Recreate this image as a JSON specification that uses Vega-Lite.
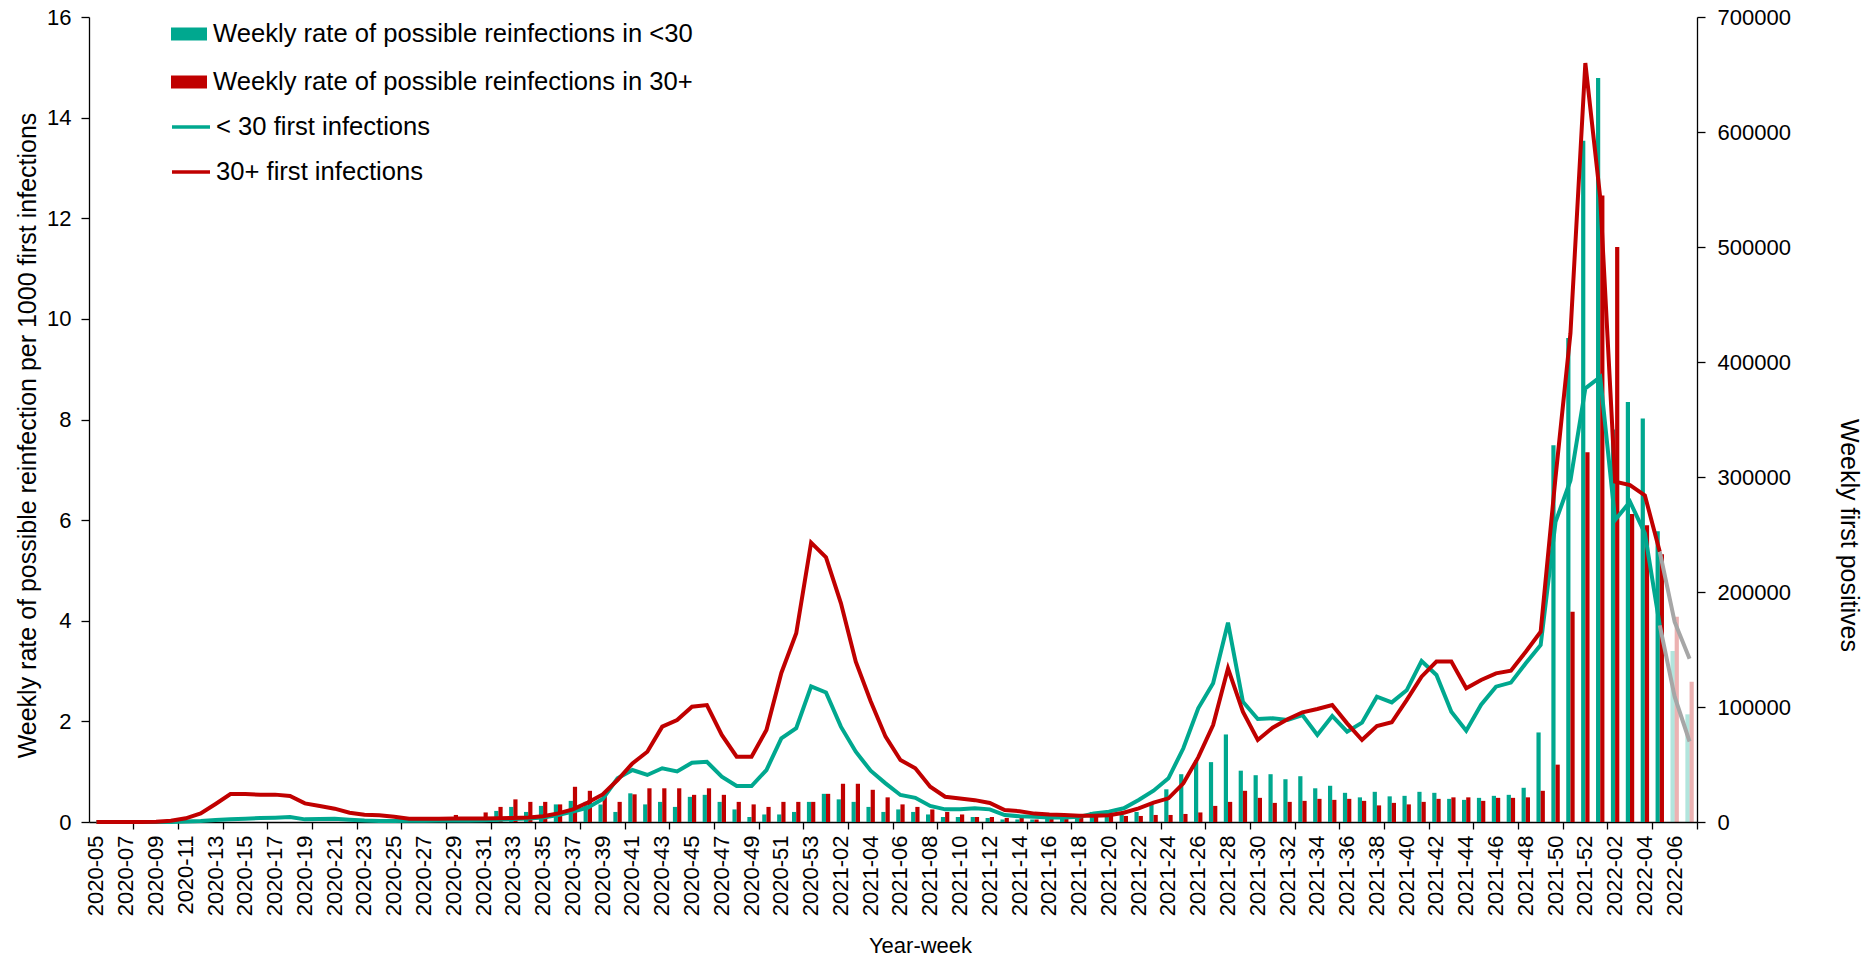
{
"$schema":"https://vega.github.io/schema/vega-lite/v6.json",
"width":1608,"height":805,
"autosize":{"type":"none"},
"padding":{"left":89,"top":17,"right":173,"bottom":134},
"background":"white",
"config":{"font":"Liberation Sans","view":{"stroke":null},
"axis":{"grid":false,"labelColor":"black","titleColor":"black","domainColor":"black","tickColor":"black","labelFont":"Liberation Sans","titleFont":"Liberation Sans","titleFontWeight":"normal","domainWidth":1.3,"tickWidth":1.3},
"legend":{"labelFont":"Liberation Sans","labelColor":"black"}},
"datasets":{"d":[
{"week":"2020-05","group":"<30","rate":0,"first":0},{"week":"2020-05","group":"30+","rate":0,"first":0},
{"week":"2020-06","group":"<30","rate":0,"first":0},{"week":"2020-06","group":"30+","rate":0,"first":0},
{"week":"2020-07","group":"<30","rate":0,"first":0},{"week":"2020-07","group":"30+","rate":0,"first":0},
{"week":"2020-08","group":"<30","rate":0,"first":0},{"week":"2020-08","group":"30+","rate":0,"first":0},
{"week":"2020-09","group":"<30","rate":0,"first":0},{"week":"2020-09","group":"30+","rate":0,"first":300},
{"week":"2020-10","group":"<30","rate":0,"first":0},{"week":"2020-10","group":"30+","rate":0,"first":1100},
{"week":"2020-11","group":"<30","rate":0,"first":400},{"week":"2020-11","group":"30+","rate":0,"first":3200},
{"week":"2020-12","group":"<30","rate":0,"first":900},{"week":"2020-12","group":"30+","rate":0,"first":7500},
{"week":"2020-13","group":"<30","rate":0,"first":1700},{"week":"2020-13","group":"30+","rate":0,"first":15700},
{"week":"2020-14","group":"<30","rate":0,"first":2300},{"week":"2020-14","group":"30+","rate":0,"first":24300},
{"week":"2020-15","group":"<30","rate":0,"first":2900},{"week":"2020-15","group":"30+","rate":0,"first":24300},
{"week":"2020-16","group":"<30","rate":0,"first":3500},{"week":"2020-16","group":"30+","rate":0,"first":23800},
{"week":"2020-17","group":"<30","rate":0,"first":3800},{"week":"2020-17","group":"30+","rate":0,"first":23800},
{"week":"2020-18","group":"<30","rate":0,"first":4300},{"week":"2020-18","group":"30+","rate":0,"first":22600},
{"week":"2020-19","group":"<30","rate":0,"first":2300},{"week":"2020-19","group":"30+","rate":0,"first":16200},
{"week":"2020-20","group":"<30","rate":0,"first":2600},{"week":"2020-20","group":"30+","rate":0,"first":13900},
{"week":"2020-21","group":"<30","rate":0,"first":2900},{"week":"2020-21","group":"30+","rate":0,"first":11600},
{"week":"2020-22","group":"<30","rate":0,"first":2000},{"week":"2020-22","group":"30+","rate":0,"first":8100},
{"week":"2020-23","group":"<30","rate":0,"first":1200},{"week":"2020-23","group":"30+","rate":0,"first":6400},
{"week":"2020-24","group":"<30","rate":0,"first":900},{"week":"2020-24","group":"30+","rate":0,"first":5800},
{"week":"2020-25","group":"<30","rate":0,"first":900},{"week":"2020-25","group":"30+","rate":0,"first":4600},
{"week":"2020-26","group":"<30","rate":0,"first":1000},{"week":"2020-26","group":"30+","rate":0,"first":2900},
{"week":"2020-27","group":"<30","rate":0,"first":1100},{"week":"2020-27","group":"30+","rate":0,"first":2900},
{"week":"2020-28","group":"<30","rate":0,"first":1200},{"week":"2020-28","group":"30+","rate":0,"first":2900},
{"week":"2020-29","group":"<30","rate":0,"first":1300},{"week":"2020-29","group":"30+","rate":0.14,"first":3000},
{"week":"2020-30","group":"<30","rate":0,"first":1400},{"week":"2020-30","group":"30+","rate":0.05,"first":3000},
{"week":"2020-31","group":"<30","rate":0.05,"first":1500},{"week":"2020-31","group":"30+","rate":0.19,"first":3000},
{"week":"2020-32","group":"<30","rate":0.22,"first":2000},{"week":"2020-32","group":"30+","rate":0.3,"first":3200},
{"week":"2020-33","group":"<30","rate":0.3,"first":2500},{"week":"2020-33","group":"30+","rate":0.45,"first":3500},
{"week":"2020-34","group":"<30","rate":0.2,"first":3000},{"week":"2020-34","group":"30+","rate":0.4,"first":4000},
{"week":"2020-35","group":"<30","rate":0.32,"first":4000},{"week":"2020-35","group":"30+","rate":0.4,"first":5000},
{"week":"2020-36","group":"<30","rate":0.35,"first":6000},{"week":"2020-36","group":"30+","rate":0.35,"first":7500},
{"week":"2020-37","group":"<30","rate":0.42,"first":9000},{"week":"2020-37","group":"30+","rate":0.7,"first":11000},
{"week":"2020-38","group":"<30","rate":0.4,"first":12500},{"week":"2020-38","group":"30+","rate":0.62,"first":17000},
{"week":"2020-39","group":"<30","rate":0.35,"first":20000},{"week":"2020-39","group":"30+","rate":0.55,"first":24000},
{"week":"2020-40","group":"<30","rate":0.2,"first":38000},{"week":"2020-40","group":"30+","rate":0.4,"first":36500},
{"week":"2020-41","group":"<30","rate":0.57,"first":45200},{"week":"2020-41","group":"30+","rate":0.55,"first":51000},
{"week":"2020-42","group":"<30","rate":0.35,"first":40900},{"week":"2020-42","group":"30+","rate":0.67,"first":61100},
{"week":"2020-43","group":"<30","rate":0.4,"first":46700},{"week":"2020-43","group":"30+","rate":0.67,"first":82900},
{"week":"2020-44","group":"<30","rate":0.3,"first":44000},{"week":"2020-44","group":"30+","rate":0.67,"first":88700},
{"week":"2020-45","group":"<30","rate":0.5,"first":51600},{"week":"2020-45","group":"30+","rate":0.54,"first":100300},
{"week":"2020-46","group":"<30","rate":0.54,"first":52400},{"week":"2020-46","group":"30+","rate":0.67,"first":101700},
{"week":"2020-47","group":"<30","rate":0.4,"first":39400},{"week":"2020-47","group":"30+","rate":0.54,"first":75700},
{"week":"2020-48","group":"<30","rate":0.25,"first":31300},{"week":"2020-48","group":"30+","rate":0.4,"first":56800},
{"week":"2020-49","group":"<30","rate":0.1,"first":31300},{"week":"2020-49","group":"30+","rate":0.35,"first":56800},
{"week":"2020-50","group":"<30","rate":0.15,"first":45200},{"week":"2020-50","group":"30+","rate":0.3,"first":80000},
{"week":"2020-51","group":"<30","rate":0.15,"first":72800},{"week":"2020-51","group":"30+","rate":0.4,"first":129600},
{"week":"2020-52","group":"<30","rate":0.2,"first":81500},{"week":"2020-52","group":"30+","rate":0.4,"first":164100},
{"week":"2020-53","group":"<30","rate":0.4,"first":118000},{"week":"2020-53","group":"30+","rate":0.4,"first":242900},
{"week":"2021-01","group":"<30","rate":0.56,"first":112600},{"week":"2021-01","group":"30+","rate":0.56,"first":230200},
{"week":"2021-02","group":"<30","rate":0.45,"first":82900},{"week":"2021-02","group":"30+","rate":0.76,"first":190400},
{"week":"2021-03","group":"<30","rate":0.4,"first":61100},{"week":"2021-03","group":"30+","rate":0.76,"first":139400},
{"week":"2021-04","group":"<30","rate":0.3,"first":44600},{"week":"2021-04","group":"30+","rate":0.64,"first":105000},
{"week":"2021-05","group":"<30","rate":0.2,"first":33600},{"week":"2021-05","group":"30+","rate":0.49,"first":74200},
{"week":"2021-06","group":"<30","rate":0.25,"first":23500},{"week":"2021-06","group":"30+","rate":0.35,"first":53900},
{"week":"2021-07","group":"<30","rate":0.2,"first":21000},{"week":"2021-07","group":"30+","rate":0.3,"first":46700},
{"week":"2021-08","group":"<30","rate":0.15,"first":14000},{"week":"2021-08","group":"30+","rate":0.25,"first":30700},
{"week":"2021-09","group":"<30","rate":0.1,"first":11000},{"week":"2021-09","group":"30+","rate":0.2,"first":22000},
{"week":"2021-10","group":"<30","rate":0.1,"first":11000},{"week":"2021-10","group":"30+","rate":0.15,"first":20500},
{"week":"2021-11","group":"<30","rate":0.1,"first":12000},{"week":"2021-11","group":"30+","rate":0.1,"first":19000},
{"week":"2021-12","group":"<30","rate":0.08,"first":11000},{"week":"2021-12","group":"30+","rate":0.1,"first":16600},
{"week":"2021-13","group":"<30","rate":0.05,"first":6000},{"week":"2021-13","group":"30+","rate":0.08,"first":10400},
{"week":"2021-14","group":"<30","rate":0.05,"first":5000},{"week":"2021-14","group":"30+","rate":0.08,"first":9400},
{"week":"2021-15","group":"<30","rate":0.05,"first":4500},{"week":"2021-15","group":"30+","rate":0.05,"first":7300},
{"week":"2021-16","group":"<30","rate":0.1,"first":4000},{"week":"2021-16","group":"30+","rate":0.09,"first":6500},
{"week":"2021-17","group":"<30","rate":0.1,"first":4000},{"week":"2021-17","group":"30+","rate":0.08,"first":6100},
{"week":"2021-18","group":"<30","rate":0.14,"first":4500},{"week":"2021-18","group":"30+","rate":0.1,"first":5500},
{"week":"2021-19","group":"<30","rate":0.2,"first":7500},{"week":"2021-19","group":"30+","rate":0.12,"first":5500},
{"week":"2021-20","group":"<30","rate":0.19,"first":9000},{"week":"2021-20","group":"30+","rate":0.12,"first":5800},
{"week":"2021-21","group":"<30","rate":0.14,"first":11900},{"week":"2021-21","group":"30+","rate":0.12,"first":8100},
{"week":"2021-22","group":"<30","rate":0.2,"first":19100},{"week":"2021-22","group":"30+","rate":0.12,"first":11900},
{"week":"2021-23","group":"<30","rate":0.36,"first":27200},{"week":"2021-23","group":"30+","rate":0.14,"first":16800},
{"week":"2021-24","group":"<30","rate":0.65,"first":38000},{"week":"2021-24","group":"30+","rate":0.14,"first":20600},
{"week":"2021-25","group":"<30","rate":0.95,"first":64100},{"week":"2021-25","group":"30+","rate":0.16,"first":33600},
{"week":"2021-26","group":"<30","rate":1.23,"first":98900},{"week":"2021-26","group":"30+","rate":0.19,"first":56200},
{"week":"2021-27","group":"<30","rate":1.19,"first":120600},{"week":"2021-27","group":"30+","rate":0.32,"first":84300},
{"week":"2021-28","group":"<30","rate":1.74,"first":173300},{"week":"2021-28","group":"30+","rate":0.4,"first":133600},
{"week":"2021-29","group":"<30","rate":1.02,"first":104600},{"week":"2021-29","group":"30+","rate":0.62,"first":95900},
{"week":"2021-30","group":"<30","rate":0.93,"first":89600},{"week":"2021-30","group":"30+","rate":0.48,"first":71300},
{"week":"2021-31","group":"<30","rate":0.95,"first":90200},{"week":"2021-31","group":"30+","rate":0.38,"first":82000},
{"week":"2021-32","group":"<30","rate":0.85,"first":88700},{"week":"2021-32","group":"30+","rate":0.4,"first":89300},
{"week":"2021-33","group":"<30","rate":0.91,"first":93000},{"week":"2021-33","group":"30+","rate":0.42,"first":95400},
{"week":"2021-34","group":"<30","rate":0.67,"first":75700},{"week":"2021-34","group":"30+","rate":0.46,"first":98300},
{"week":"2021-35","group":"<30","rate":0.72,"first":92200},{"week":"2021-35","group":"30+","rate":0.44,"first":101700},
{"week":"2021-36","group":"<30","rate":0.58,"first":78500},{"week":"2021-36","group":"30+","rate":0.46,"first":85800},
{"week":"2021-37","group":"<30","rate":0.49,"first":86400},{"week":"2021-37","group":"30+","rate":0.42,"first":71300},
{"week":"2021-38","group":"<30","rate":0.6,"first":109000},{"week":"2021-38","group":"30+","rate":0.33,"first":83500},
{"week":"2021-39","group":"<30","rate":0.51,"first":104000},{"week":"2021-39","group":"30+","rate":0.38,"first":86700},
{"week":"2021-40","group":"<30","rate":0.52,"first":114500},{"week":"2021-40","group":"30+","rate":0.35,"first":106000},
{"week":"2021-41","group":"<30","rate":0.6,"first":140000},{"week":"2021-41","group":"30+","rate":0.4,"first":126400},
{"week":"2021-42","group":"<30","rate":0.58,"first":127800},{"week":"2021-42","group":"30+","rate":0.46,"first":139500},
{"week":"2021-43","group":"<30","rate":0.46,"first":95900},{"week":"2021-43","group":"30+","rate":0.49,"first":139500},
{"week":"2021-44","group":"<30","rate":0.44,"first":79400},{"week":"2021-44","group":"30+","rate":0.49,"first":116300},
{"week":"2021-45","group":"<30","rate":0.48,"first":102000},{"week":"2021-45","group":"30+","rate":0.42,"first":123500},
{"week":"2021-46","group":"<30","rate":0.52,"first":117700},{"week":"2021-46","group":"30+","rate":0.48,"first":129300},
{"week":"2021-47","group":"<30","rate":0.54,"first":121200},{"week":"2021-47","group":"30+","rate":0.48,"first":131600},
{"week":"2021-48","group":"<30","rate":0.68,"first":138000},{"week":"2021-48","group":"30+","rate":0.49,"first":148100},
{"week":"2021-49","group":"<30","rate":1.78,"first":154000},{"week":"2021-49","group":"30+","rate":0.62,"first":165500},
{"week":"2021-50","group":"<30","rate":7.49,"first":261000},{"week":"2021-50","group":"30+","rate":1.14,"first":300000},
{"week":"2021-51","group":"<30","rate":9.62,"first":297000},{"week":"2021-51","group":"30+","rate":4.18,"first":425000},
{"week":"2021-52","group":"<30","rate":13.54,"first":377000},{"week":"2021-52","group":"30+","rate":7.35,"first":660000},
{"week":"2022-01","group":"<30","rate":14.79,"first":387000},{"week":"2022-01","group":"30+","rate":12.45,"first":543000},
{"week":"2022-02","group":"<30","rate":7.8,"first":262600},{"week":"2022-02","group":"30+","rate":11.43,"first":296000},
{"week":"2022-03","group":"<30","rate":8.35,"first":278500},{"week":"2022-03","group":"30+","rate":6.12,"first":293000},
{"week":"2022-04","group":"<30","rate":8.02,"first":251000},{"week":"2022-04","group":"30+","rate":5.9,"first":284000},
{"week":"2022-05","group":"<30","rate":5.78,"first":171000},{"week":"2022-05","group":"30+","rate":5.32,"first":235000},
{"week":"2022-06","group":"<30","rate":3.4,"first":109000},{"week":"2022-06","group":"30+","rate":4.08,"first":174000},
{"week":"2022-07","group":"<30","rate":2.14,"first":70000},{"week":"2022-07","group":"30+","rate":2.79,"first":142000}
]},
"data":{"name":"d"},
"layer":[
{"mark":{"type":"bar"},
"encoding":{
"x":{"field":"week","type":"ordinal","title":"Year-week",
"scale":{"type":"band","paddingInner":0,"paddingOuter":0,"domain":["2020-05","2020-06","2020-07","2020-08","2020-09","2020-10","2020-11","2020-12","2020-13","2020-14","2020-15","2020-16","2020-17","2020-18","2020-19","2020-20","2020-21","2020-22","2020-23","2020-24","2020-25","2020-26","2020-27","2020-28","2020-29","2020-30","2020-31","2020-32","2020-33","2020-34","2020-35","2020-36","2020-37","2020-38","2020-39","2020-40","2020-41","2020-42","2020-43","2020-44","2020-45","2020-46","2020-47","2020-48","2020-49","2020-50","2020-51","2020-52","2020-53","2021-01","2021-02","2021-03","2021-04","2021-05","2021-06","2021-07","2021-08","2021-09","2021-10","2021-11","2021-12","2021-13","2021-14","2021-15","2021-16","2021-17","2021-18","2021-19","2021-20","2021-21","2021-22","2021-23","2021-24","2021-25","2021-26","2021-27","2021-28","2021-29","2021-30","2021-31","2021-32","2021-33","2021-34","2021-35","2021-36","2021-37","2021-38","2021-39","2021-40","2021-41","2021-42","2021-43","2021-44","2021-45","2021-46","2021-47","2021-48","2021-49","2021-50","2021-51","2021-52","2022-01","2022-02","2022-03","2022-04","2022-05","2022-06","2022-07"]},
"axis":{"orient":"bottom","values":["2020-05","2020-07","2020-09","2020-11","2020-13","2020-15","2020-17","2020-19","2020-21","2020-23","2020-25","2020-27","2020-29","2020-31","2020-33","2020-35","2020-37","2020-39","2020-41","2020-43","2020-45","2020-47","2020-49","2020-51","2020-53","2021-02","2021-04","2021-06","2021-08","2021-10","2021-12","2021-14","2021-16","2021-18","2021-20","2021-22","2021-24","2021-26","2021-28","2021-30","2021-32","2021-34","2021-36","2021-38","2021-40","2021-42","2021-44","2021-46","2021-48","2021-50","2021-52","2022-02","2022-04","2022-06"],
"ticks":false,"tickSize":0,"labelAngle":-90,"labelFontSize":22,"labelPadding":13,"titleFontSize":22,"titleX":831,"titleY":123,"titleBaseline":"middle","titleAlign":"center"}},
"xOffset":{"field":"group","type":"nominal","scale":{"domain":["<30","30+"],"paddingInner":0,"paddingOuter":0.77}},
"y":{"field":"rate","type":"quantitative","scale":{"domain":[0,16],"nice":false},
"axis":{"orient":"left","values":[0,2,4,6,8,10,12,14,16],"title":"Weekly rate of possible reinfection per 1000 first infections","labelFontSize":22,"tickSize":8,"labelPadding":10,"titleFontSize":25,"titleAngle":-90,"titleX":-62,"titleY":418,"titleBaseline":"middle","titleAlign":"center"}},
"color":{"field":"group","type":"nominal","scale":{"domain":["<30","30+"],"range":["#00A88F","#C00000"]},
"legend":{"orient":"none","legendX":82,"legendY":-1,"title":null,"padding":0,"symbolType":"M-1,-0.36H1V0.36H-1Z","symbolSize":1296,"symbolStrokeWidth":0,"labelFontSize":25.6,"labelOffset":6,"rowPadding":16,"labelLimit":1000,
"labelExpr":"datum.label == '<30' ? 'Weekly rate of possible reinfections in <30' : 'Weekly rate of possible reinfections in 30+'"}},
"opacity":{"condition":{"test":"datum.week == '2022-06' || datum.week == '2022-07'","value":0.3},"value":1}
}},
{"layer":[
{"transform":[{"filter":{"not":{"field":"week","oneOf":["2022-06","2022-07"]}}}],
"mark":{"type":"line","strokeWidth":4},
"encoding":{
"x":{"field":"week","type":"ordinal","scale":{"type":"band"},
"axis":{"orient":"bottom","title":null,"labels":false,"domain":false,"ticks":true,"tickSize":7,"bandPosition":1,
"values":["2020-07","2020-10","2020-13","2020-16","2020-19","2020-22","2020-25","2020-28","2020-31","2020-34","2020-37","2020-40","2020-43","2020-46","2020-49","2020-52","2021-02","2021-05","2021-08","2021-11","2021-14","2021-17","2021-20","2021-23","2021-26","2021-29","2021-32","2021-35","2021-38","2021-41","2021-44","2021-47","2021-50","2022-01","2022-04","2022-07"]}},
"y":{"field":"first","type":"quantitative","scale":{"domain":[0,700000],"nice":false},
"axis":{"orient":"right","values":[0,100000,200000,300000,400000,500000,600000,700000],"format":"d","labelFontSize":22,"tickSize":8,"labelPadding":12,"title":"Weekly first positives","titleFontSize":25,"titleAngle":90,"titleX":151,"titleY":518,"titleBaseline":"middle","titleAlign":"center"}},
"stroke":{"field":"group","type":"nominal","scale":{"domain":["30+","<30"],"range":["#C00000","#00A88F"]},
"legend":{"orient":"none","legendX":81,"legendY":89,"title":null,"padding":0,"values":["<30","30+"],"symbolType":"M-1,0H1","symbolSize":1444,"symbolStrokeWidth":3.5,"labelFontSize":25.6,"labelOffset":4,"rowPadding":10,"labelLimit":1000,
"labelExpr":"datum.label == '<30' ? '< 30 first infections' : '30+ first infections'"}}
}},
{"transform":[{"filter":{"field":"week","oneOf":["2022-05","2022-06","2022-07"]}}],
"mark":{"type":"line","strokeWidth":4,"color":"#A6A6A6"},
"encoding":{
"x":{"field":"week","type":"ordinal","scale":{"type":"band"}},
"y":{"field":"first","type":"quantitative"},
"detail":{"field":"group","type":"nominal"}
}}
]}
],
"resolve":{"scale":{"y":"independent"},"axis":{"x":"independent"}}
}
